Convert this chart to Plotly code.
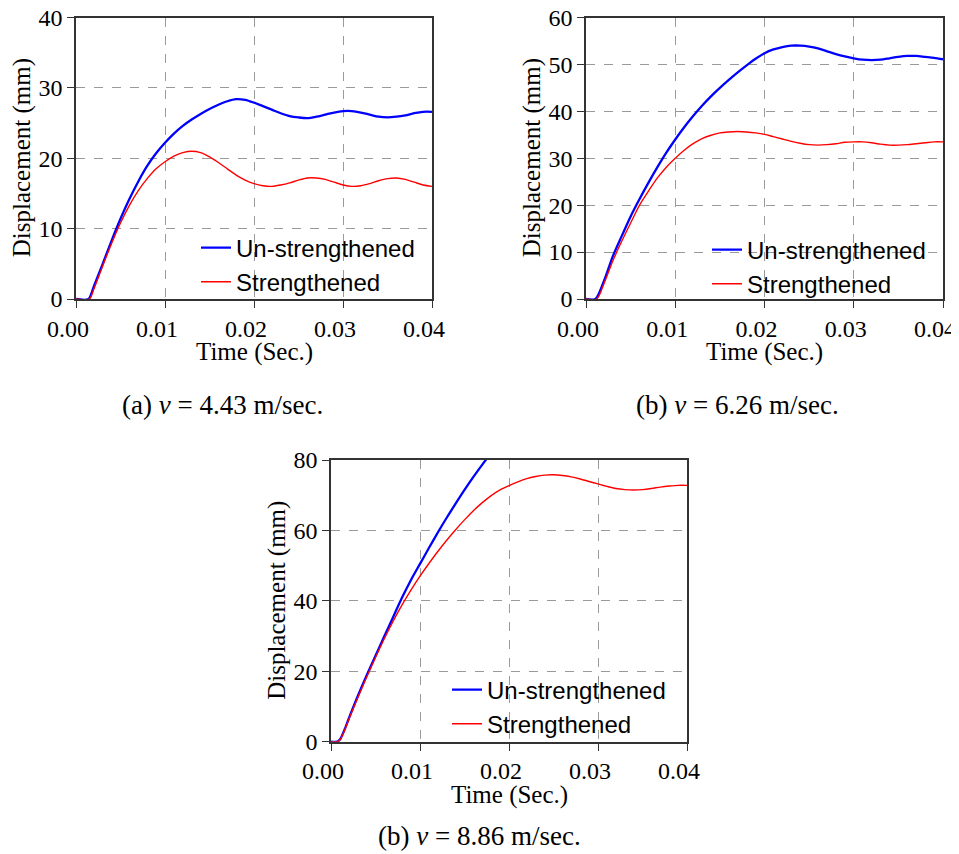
import plotly.graph_objects as go

# ---------------- data ----------------
# Panel (a) v = 4.43 m/sec
t_a = [0.0, 0.0014, 0.002, 0.003, 0.004, 0.005, 0.006, 0.007, 0.008, 0.009, 0.010,
       0.011, 0.012, 0.013, 0.014, 0.015, 0.016, 0.017, 0.018, 0.019, 0.020,
       0.021, 0.022, 0.023, 0.024, 0.025, 0.026, 0.027, 0.028, 0.029, 0.030,
       0.031, 0.032, 0.033, 0.034, 0.035, 0.036, 0.037, 0.038, 0.039, 0.040]
un_a = [0.0, 0.0, 1.8, 5.0, 8.3, 11.4, 14.2, 16.7, 18.9, 20.7, 22.2,
        23.5, 24.6, 25.5, 26.3, 27.0, 27.6, 28.1, 28.4, 28.3, 27.9,
        27.4, 26.9, 26.4, 26.0, 25.8, 25.7, 25.9, 26.2, 26.5, 26.7,
        26.7, 26.5, 26.2, 25.9, 25.8, 25.9, 26.1, 26.4, 26.6, 26.6]
t_a_s = [0.0, 0.0015, 0.002, 0.003, 0.004, 0.005, 0.006, 0.007, 0.008, 0.009, 0.010,
         0.011, 0.012, 0.013, 0.014, 0.015, 0.016, 0.017, 0.018, 0.019, 0.020,
         0.021, 0.022, 0.023, 0.024, 0.025, 0.026, 0.027, 0.028, 0.029, 0.030,
         0.031, 0.032, 0.033, 0.034, 0.035, 0.036, 0.037, 0.038, 0.039, 0.040]
st_a = [0.0, 0.0, 1.4, 4.7, 7.9, 10.8, 13.3, 15.4, 17.1, 18.5, 19.5,
        20.3, 20.8, 21.0, 20.8, 20.2, 19.4, 18.5, 17.6, 16.9, 16.4,
        16.1, 16.0, 16.2, 16.5, 16.9, 17.2, 17.2, 17.0, 16.6, 16.2,
        16.0, 16.1, 16.4, 16.8, 17.1, 17.2, 17.0, 16.6, 16.2, 16.0]

# Panel (b) v = 6.26 m/sec
t_b = [0.0, 0.00105, 0.002, 0.003, 0.004, 0.005, 0.006, 0.007, 0.008, 0.009, 0.010,
       0.011, 0.012, 0.013, 0.014, 0.015, 0.016, 0.017, 0.018, 0.019, 0.020,
       0.021, 0.022, 0.023, 0.024, 0.025, 0.026, 0.027, 0.028, 0.029, 0.030,
       0.031, 0.032, 0.033, 0.034, 0.035, 0.036, 0.037, 0.038, 0.039, 0.040]
un_b = [0.0, 0.0, 3.8, 9.1, 13.4, 17.6, 21.3, 24.8, 28.1, 31.2, 34.0,
        36.6, 39.0, 41.2, 43.2, 45.0, 46.7, 48.3, 49.8, 51.2, 52.4,
        53.2, 53.7, 54.0, 54.0, 53.8, 53.4, 52.8, 52.2, 51.7, 51.3,
        51.0, 50.9, 51.0, 51.3, 51.6, 51.8, 51.8, 51.6, 51.4, 51.1]
t_b_s = [0.0, 0.0012, 0.002, 0.003, 0.004, 0.005, 0.006, 0.007, 0.008, 0.009, 0.010,
         0.011, 0.012, 0.013, 0.014, 0.015, 0.016, 0.017, 0.018, 0.019, 0.020,
         0.021, 0.022, 0.023, 0.024, 0.025, 0.026, 0.027, 0.028, 0.029, 0.030,
         0.031, 0.032, 0.033, 0.034, 0.035, 0.036, 0.037, 0.038, 0.039, 0.040]
st_b = [0.0, 0.0, 3.2, 8.1, 12.3, 16.2, 20.0, 23.0, 25.8, 28.1, 30.0,
        31.7, 33.1, 34.2, 34.9, 35.4, 35.6, 35.7, 35.6, 35.4, 35.1,
        34.6, 34.1, 33.6, 33.2, 32.9, 32.8, 32.9, 33.1, 33.4, 33.5,
        33.5, 33.3, 33.0, 32.8, 32.8, 32.9, 33.1, 33.3, 33.5, 33.5]

# Panel (c) v = 8.86 m/sec
t_c = [0.0, 0.0007, 0.001, 0.0015, 0.002, 0.003, 0.004, 0.005, 0.006, 0.007, 0.008,
       0.009, 0.010, 0.011, 0.012, 0.013, 0.014, 0.015, 0.016, 0.017, 0.018, 0.019]
un_c = [0.0, 0.0, 0.6, 3.3, 6.6, 12.9, 18.8, 24.4, 30.0, 35.5, 41.0,
        46.0, 50.5, 55.0, 59.4, 63.6, 67.6, 71.5, 75.2, 78.7, 82.0, 85.2]
t_c_s = [0.0, 0.0007, 0.001, 0.0015, 0.002, 0.003, 0.004, 0.005, 0.006, 0.007, 0.008,
         0.009, 0.010, 0.011, 0.012, 0.013, 0.014, 0.015, 0.016, 0.017, 0.018, 0.019,
         0.020, 0.021, 0.022, 0.023, 0.024, 0.025, 0.026, 0.027, 0.028, 0.029, 0.030,
         0.031, 0.032, 0.033, 0.034, 0.035, 0.036, 0.037, 0.038, 0.039, 0.040]
st_c = [0.0, 0.0, 0.5, 3.0, 6.3, 12.4, 18.3, 23.9, 29.3, 34.3, 38.9,
        43.1, 47.0, 50.6, 54.0, 57.2, 60.2, 63.0, 65.6, 67.9, 69.9, 71.5,
        72.7, 73.8, 74.7, 75.3, 75.7, 75.8, 75.6, 75.2, 74.6, 73.9, 73.2,
        72.5, 71.9, 71.6, 71.5, 71.6, 71.9, 72.3, 72.6, 72.8, 72.8]

x_ticks = [0.0, 0.01, 0.02, 0.03, 0.04]
x_tick_labels = ["0.00", "0.01", "0.02", "0.03", "0.04"]
y_ranges = [[0, 40], [0, 60], [0, 80]]
y_dticks = [10, 10, 20]
captions = ["(a) <i>v</i> = 4.43 m/sec.", "(b) <i>v</i> = 6.26 m/sec.", "(b) <i>v</i> = 8.86 m/sec."]
series_names = ["Un-strengthened", "Strengthened"]

# ---------------- layout geometry ----------------
# The page body has an 8px margin, so the figure starts at (8, 8) in the window.
OFF = 8
W, H = 959 - OFF, 854 - OFF
SERIF = "Liberation Serif, Times New Roman, serif"
SANS = "Liberation Sans, Arial, sans-serif"

def px_x(p):
    return (p - OFF) / W

def px_y(p):
    return 1 - (p - OFF) / H

panels = [
    # (x0, x1, ytop, ybottom) in window pixels
    (76, 432, 17.5, 299),
    (586, 943, 17.5, 299),
    (331, 687, 460, 741.7),
]

fig = go.Figure()

data = [
    (t_a, un_a, t_a_s, st_a),
    (t_b, un_b, t_b_s, st_b),
    (t_c, un_c, t_c_s, st_c),
]

for i, (tu, u, ts, s) in enumerate(data):
    suffix = "" if i == 0 else str(i + 1)
    lg = "legend" if i == 0 else f"legend{i + 1}"
    fig.add_trace(go.Scatter(
        x=tu, y=u, mode="lines", name=series_names[0],
        line=dict(color="#0000FF", width=2.3, shape="spline", smoothing=0.8),
        xaxis="x" + suffix, yaxis="y" + suffix, legend=lg, cliponaxis=True))
    fig.add_trace(go.Scatter(
        x=ts, y=s, mode="lines", name=series_names[1],
        line=dict(color="#FF0000", width=1.4, shape="spline", smoothing=0.8),
        xaxis="x" + suffix, yaxis="y" + suffix, legend=lg, cliponaxis=True))

layout = dict(
    width=W, height=H,
    margin=dict(l=0, r=0, t=0, b=0, autoexpand=False),
    paper_bgcolor="white", plot_bgcolor="white",
    font=dict(family=SERIF, size=24, color="black"),
    showlegend=True,
)

axis_common = dict(
    showline=True, linecolor="#333333", linewidth=1.6, mirror=True,
    ticks="outside", ticklen=7, tickwidth=1.3, tickcolor="#333333",
    showgrid=True, gridcolor="#9a9a9a", griddash="dash", gridwidth=1,
    zeroline=False, automargin=False, ticklabeloverflow="allow",
    tickfont=dict(family=SERIF, size=24, color="black"),
)

legend_pos = [(196, 265), (707, 267), (447, 707)]
annotations = []
for i, (x0, x1, yt, yb) in enumerate(panels):
    suffix = "" if i == 0 else str(i + 1)
    layout["xaxis" + suffix] = dict(
        axis_common, domain=[px_x(x0), px_x(x1)], anchor="y" + suffix,
        range=[0, 0.04], tickvals=x_ticks, ticktext=x_tick_labels,
        ticklabelshift=-8)
    layout["yaxis" + suffix] = dict(
        axis_common, domain=[px_y(yb), px_y(yt)], anchor="x" + suffix,
        range=y_ranges[i], dtick=y_dticks[i], tick0=0)
    lg = "legend" if i == 0 else f"legend{i + 1}"
    lx, ly = legend_pos[i]
    layout[lg] = dict(
        x=px_x(lx), y=px_y(ly), xanchor="left", yanchor="middle",
        bgcolor="rgba(0,0,0,0)", borderwidth=0,
        font=dict(family=SANS, size=24, color="black"),
        tracegroupgap=0, itemwidth=30)
    cx = (x0 + x1) / 2
    # x axis title
    annotations.append(dict(
        text="Time (Sec.)", x=px_x(cx), y=px_y(yb + 53), xref="paper", yref="paper",
        showarrow=False, font=dict(family=SERIF, size=25, color="black"),
        xanchor="center", yanchor="middle"))
    # y axis title
    annotations.append(dict(
        text="Displacement (mm)", x=px_x(x0 - 54), y=px_y((yt + yb) / 2),
        xref="paper", yref="paper", textangle=-90, showarrow=False,
        font=dict(family=SERIF, size=25, color="black"),
        xanchor="center", yanchor="middle"))

caption_pos = [(222, 405), (737, 405), (479, 836)]
for cap, (cx, cy) in zip(captions, caption_pos):
    annotations.append(dict(
        text=cap, x=px_x(cx), y=px_y(cy), xref="paper", yref="paper",
        showarrow=False, font=dict(family=SERIF, size=27, color="black"),
        xanchor="center", yanchor="middle"))

layout["annotations"] = annotations
fig.update_layout(**layout)
fig.write_html("out.html")
